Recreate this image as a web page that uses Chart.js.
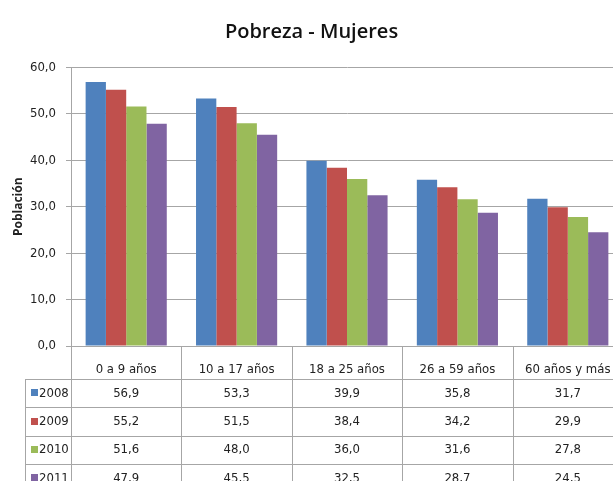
<!DOCTYPE html>
<html>
<head>
<meta charset="utf-8">
<script src="https://cdn.jsdelivr.net/npm/chart.js@4/dist/chart.umd.min.js"></script>
<style>
  html, body { margin: 0; padding: 0; background: #fff; overflow: hidden; }
  #wrap { width: 630px; height: 481px; }
</style>
</head>
<body>
<div id="wrap"><canvas id="c" width="630" height="481"></canvas></div>
<script>
// datos
const categorias = ['0 a 9 años', '10 a 17 años', '18 a 25 años', '26 a 59 años', '60 años y más'];
const anios = ['2008', '2009', '2010', '2011'];
const v2008 = [56.9, 53.3, 39.9, 35.8, 31.7];
const v2009 = [55.2, 51.5, 38.4, 34.2, 29.9];
const v2010 = [51.6, 48.0, 36.0, 31.6, 27.8];
const v2011 = [47.9, 45.5, 32.5, 28.7, 24.5];
const colores = ['#4F81BD', '#C0504D', '#9BBB59', '#8064A2'];

const series = [v2008, v2009, v2010, v2011];
const fmt = v => Number(v).toFixed(1).replace('.', ',');
const FONT = '"Liberation Sans Narrow", "DejaVu Sans Condensed", sans-serif';
const LINE = '#a6a6a6';

// tabla de datos debajo del eje
const tablaPlugin = {
  id: 'tabla',
  afterDraw(chart) {
    const { ctx, chartArea } = chart;
    const x = chart.scales.x;
    const w = x.width / categorias.length;
    const top = chartArea.bottom;
    const headerH = 33, rowH = 28.4;
    const leftX = 25;
    const right = chartArea.right;
    const bottom = chart.height + 20;
    ctx.save();
    ctx.strokeStyle = LINE;
    ctx.lineWidth = 1;
    // lineas verticales
    ctx.beginPath();
    for (let i = 0; i <= categorias.length; i++) {
      const px = Math.round(x.left + i * w) + 0.5;
      ctx.moveTo(px, top);
      ctx.lineTo(px, bottom);
    }
    ctx.moveTo(leftX + 0.5, top + headerH);
    ctx.lineTo(leftX + 0.5, bottom);
    // lineas horizontales
    for (let r = 0; r < anios.length; r++) {
      const py = Math.round(top + headerH + r * rowH) + 0.5;
      ctx.moveTo(leftX, py);
      ctx.lineTo(right, py);
    }
    ctx.stroke();
    // filas
    ctx.font = '13px ' + FONT;
    ctx.fillStyle = '#222';
    ctx.textBaseline = 'middle';
    anios.forEach((a, r) => {
      const cy = top + headerH + r * rowH + rowH / 2;
      ctx.fillStyle = colores[r];
      ctx.fillRect(leftX + 6, Math.round(cy - 4), 7, 7);
      ctx.fillStyle = '#222';
      ctx.textAlign = 'left';
      ctx.fillText(a, leftX + 14, cy);
      ctx.textAlign = 'center';
      series[r].forEach((v, i) => {
        ctx.fillText(fmt(v), x.getPixelForValue(i), cy);
      });
    });
    ctx.restore();
  }
};

new Chart(document.getElementById('c'), {
  type: 'bar',
  data: {
    labels: categorias,
    datasets: anios.map((a, i) => ({
      label: a,
      data: series[i],
      backgroundColor: colores[i],
      borderWidth: 0,
      categoryPercentage: 0.735,
      barPercentage: 1.0,
    }))
  },
  options: {
    responsive: false,
    animation: false,
    layout: { padding: { left: 0, right: 7, top: 0, bottom: 0 } },
    plugins: {
      legend: { display: false },
      tooltip: { enabled: false },
      title: {
        display: true,
        text: 'Pobreza - Mujeres',
        color: '#111',
        font: { family: '"Open Sans", sans-serif', size: 20, weight: '600' },
        padding: { top: 20, bottom: 23.5 }
      }
    },
    scales: {
      x: {
        grid: { display: false },
        border: { display: true, color: LINE },
        ticks: { color: '#222', font: { family: FONT, size: 13 }, padding: 8, maxRotation: 0, autoSkip: false },
        afterFit: s => { s.height = 135; }
      },
      y: {
        min: 0, max: 60,
        grid: { color: LINE, tickLength: 5 },
        border: { display: true, color: LINE },
        ticks: { stepSize: 10, color: '#222', font: { family: FONT, size: 13 }, padding: 10, callback: v => fmt(v) },
        title: {
          display: true, text: 'Población', color: '#222',
          font: { family: '"Open Sans", sans-serif', size: 12, weight: 'bold' },
          padding: { top: 11, bottom: 0 }
        },
        afterFit: s => { s.width = 71; }
      }
    }
  },
  plugins: [tablaPlugin]
});
</script>
</body>
</html>
